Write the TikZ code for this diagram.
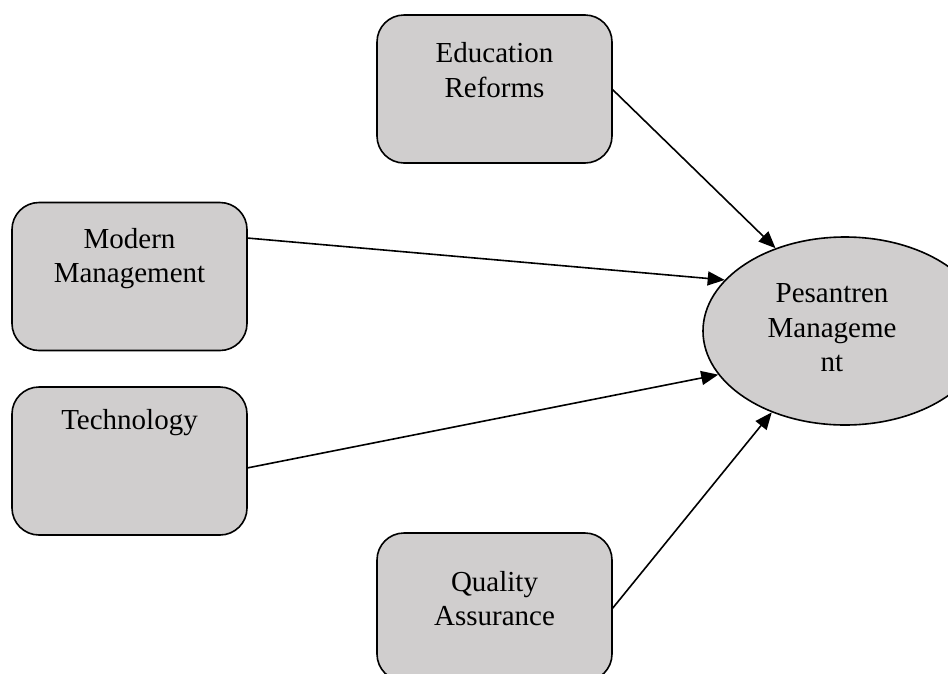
\documentclass[tikz,border=0pt]{standalone}
\usepackage{fontspec}
\setmainfont{Liberation Serif}
\usetikzlibrary{arrows.meta,shapes.geometric}
\definecolor{boxfill}{RGB}{208,206,206}
\begin{document}
\begin{tikzpicture}[x=1pt,y=-1pt,
  box/.style={draw=black, line width=1.6pt, fill=boxfill, rounded corners=27pt,
    minimum width=235pt, minimum height=148pt, inner sep=0pt, outer sep=0pt},
  oval/.style={draw=black, line width=1.6pt, fill=boxfill, ellipse,
    minimum width=284pt, minimum height=188pt, inner sep=0pt},
  lbl/.style={align=center, font=\fontsize{29}{34.5}\selectfont, inner sep=0pt},
  arr/.style={line width=1.6pt, -{Triangle[length=17pt,width=14pt]}}]
\clip (0,0) rectangle (948,673);
\fill[white] (0,0) rectangle (948,673);

% factor boxes and the central ellipse
\node[box] (er) at (494.5,89) {};
\node[box] (mm) at (129.5,276.5) {};
\node[box] (tc) at (129.5,461) {};
\node[box] (qa) at (494.5,607) {};
\node[oval] (pm) at (845,331) {};

% labels
\node[lbl] (ert) at (494.5,70) {Education\\Reforms};
\node[lbl] (mmt) at (129.5,258.5) {Modern\\Management};
\node[lbl] (tct) at (129.5,423) {Technology};
\node[lbl] (qat) at (494.5,598.5) {Quality\\Assurance};
\node[lbl] (pmt) at (832,328) {Pesantren\\Manageme\\nt};

% influences
\draw[arr] (er.east) -- (pm.130.3);
\draw[arr] ([yshift=38.5pt]mm.east) -- (pm.157.6);
\draw[arr] ([yshift=-7pt]tc.east) -- (pm.199.5);
\draw[arr] ([yshift=-2pt]qa.east) -- (pm.228.2);
\end{tikzpicture}
\end{document}
